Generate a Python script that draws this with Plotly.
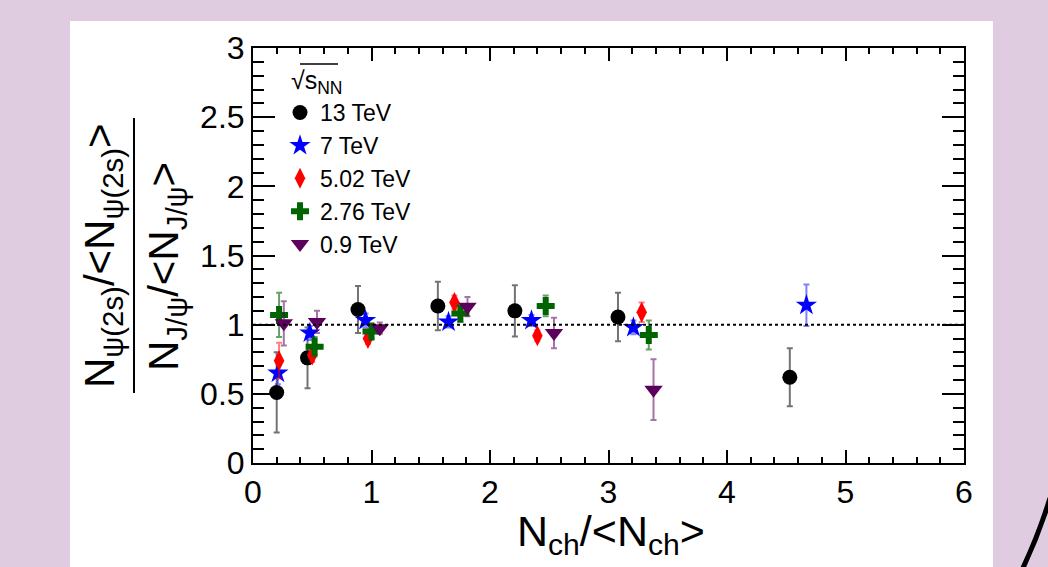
import plotly.graph_objects as go

# psi(2S)/J/psi self-normalised yield ratio vs. self-normalised multiplicity
x_13 = [0.20, 0.46, 0.886, 1.56, 2.21, 3.08, 4.53]
y_13 = [0.51, 0.76, 1.11, 1.135, 1.10, 1.055, 0.62]
e_13 = [0.29, 0.22, 0.17, 0.175, 0.185, 0.175, 0.21]

x_7 = [0.21, 0.48, 0.95, 1.65, 2.35, 3.21, 4.67]
y_7 = [0.65, 0.94, 1.03, 1.02, 1.03, 0.98, 1.14]
e_7 = [0.08, 0.05, 0.05, 0.04, 0.04, 0.05, 0.15]

x_502 = [0.22, 0.50, 0.97, 1.70, 2.40, 3.28]
y_502 = [0.74, 0.78, 0.90, 1.16, 0.92, 1.09]
e_502 = [0.13, 0.05, 0.04, 0.05, 0.04, 0.07]

x_276 = [0.22, 0.52, 1.00, 1.75, 2.47, 3.34]
y_276 = [1.07, 0.84, 0.95, 1.08, 1.135, 0.925]
e_276 = [0.16, 0.07, 0.05, 0.06, 0.075, 0.105]

x_09 = [0.26, 0.54, 1.07, 1.81, 2.54, 3.38]
y_09 = [1.01, 1.02, 0.975, 1.13, 0.94, 0.53]
e_09 = [0.16, 0.08, 0.04, 0.07, 0.11, 0.22]

energy_labels = ["13 TeV", "7 TeV", "5.02 TeV", "2.76 TeV", "0.9 TeV"]

FONT = "Liberation Sans, Arial, Helvetica, sans-serif"
W, H = 1048, 567
ML, MR, MT, MB = 253, 84, 48, 104
PW, PH = W - ML - MR, H - MT - MB


def px(xp):
    return (xp - ML) / PW


def py(yp):
    return (H - MB - yp) / PH


series = [
    (x_13, y_13, e_13, "circle", 15, "black", "rgba(0,0,0,0.55)"),
    (x_7, y_7, e_7, "star", 16, "#0000ff", "rgba(0,0,255,0.5)"),
    (x_502, y_502, e_502, "diamond-tall", 15, "#ff0000", "rgba(255,0,0,0.5)"),
    (x_276, y_276, e_276, "cross", 15, "#006400", "rgba(0,100,0,0.6)"),
    (x_09, y_09, e_09, "triangle-down", 16, "#5c005e", "rgba(92,0,94,0.55)"),
]

fig = go.Figure()
for (xs, ys, es, sym, size, col, ecol), name in zip(series, energy_labels):
    fig.add_trace(go.Scatter(
        x=xs, y=ys, mode="markers", name=name,
        marker=dict(symbol=sym, size=size, color=col, line=dict(width=0)),
        error_y=dict(type="data", array=es, visible=True, color=ecol,
                     thickness=2, width=3),
    ))

shapes = [
    # white panel behind the figure
    dict(type="rect", xref="paper", yref="paper", x0=px(70), x1=px(993),
         y0=py(600), y1=py(21), fillcolor="white", line=dict(width=0),
         layer="below"),
    # reference line at unity
    dict(type="line", xref="x", yref="y", x0=0, x1=6, y0=1, y1=1,
         line=dict(color="black", width=2, dash="dot")),
    # fraction bar of the y-axis title
    dict(type="line", xref="paper", yref="paper", x0=px(134), x1=px(134),
         y0=py(393), y1=py(118), line=dict(color="black", width=2)),
    # overbar of the sqrt(s_NN) header
    dict(type="line", xref="paper", yref="paper", x0=px(300), x1=px(338),
         y0=py(64), y1=py(64), line=dict(color="black", width=1.5)),
    # decorative arc in the corner
    dict(type="path", xref="paper", yref="paper",
         path=f"M {px(1050)},{py(498)} Q {px(1039)},{py(534)} {px(1022)},{py(570)}",
         line=dict(color="black", width=5)),
]

annotations = [
    dict(text="N<sub>ψ(2s)</sub>/&lt;N<sub>ψ(2s)</sub>&gt;", textangle=-90,
         xref="paper", yref="paper", x=px(103), y=py(256), showarrow=False,
         xanchor="center", yanchor="middle", font=dict(family=FONT, size=42, color="black")),
    dict(text="N<sub>J/ψ</sub>/&lt;N<sub>J/ψ</sub>&gt;", textangle=-90,
         xref="paper", yref="paper", x=px(166), y=py(267), showarrow=False,
         xanchor="center", yanchor="middle", font=dict(family=FONT, size=42, color="black")),
    dict(text="√s<sub>NN</sub>", xref="paper", yref="paper", x=px(289), y=py(82),
         showarrow=False, xanchor="left", yanchor="middle",
         font=dict(family=FONT, size=25, color="black")),
    dict(text="N<sub>ch</sub>/&lt;N<sub>ch</sub>&gt;", xref="paper", yref="paper",
         x=px(611), y=py(534), showarrow=False, xanchor="center", yanchor="middle",
         font=dict(family=FONT, size=43, color="black")),
]

fig.update_layout(
    width=W, height=H,
    margin=dict(l=ML, r=MR, t=MT, b=MB, pad=0),
    paper_bgcolor="#dfcce0",
    plot_bgcolor="white",
    font=dict(family=FONT, color="black"),
    shapes=shapes,
    annotations=annotations,
    showlegend=True,
    legend=dict(x=px(280), y=py(91), xanchor="left", yanchor="top",
                bgcolor="rgba(0,0,0,0)", font=dict(family=FONT, size=23),
                tracegroupgap=0, itemwidth=30),
    xaxis=dict(
        range=[0, 6], dtick=1, tick0=0, ticks="inside", ticklen=13, tickwidth=2,
        tickcolor="black", showline=True, linewidth=2, linecolor="black",
        mirror="allticks", showgrid=False, zeroline=False,
        tickfont=dict(family=FONT, size=32),
        minor=dict(dtick=0.2, ticks="inside", ticklen=6, tickwidth=2, tickcolor="black", showgrid=False),
    ),
    yaxis=dict(
        range=[0, 3], dtick=0.5, tick0=0, ticks="inside", ticklen=22, tickwidth=2,
        tickcolor="black", showline=True, linewidth=2, linecolor="black",
        mirror="allticks", showgrid=False, zeroline=False,
        tickfont=dict(family=FONT, size=32),
        minor=dict(dtick=0.1, ticks="inside", ticklen=11, tickwidth=2, tickcolor="black", showgrid=False),
    ),
)

fig.write_html("out.html")
